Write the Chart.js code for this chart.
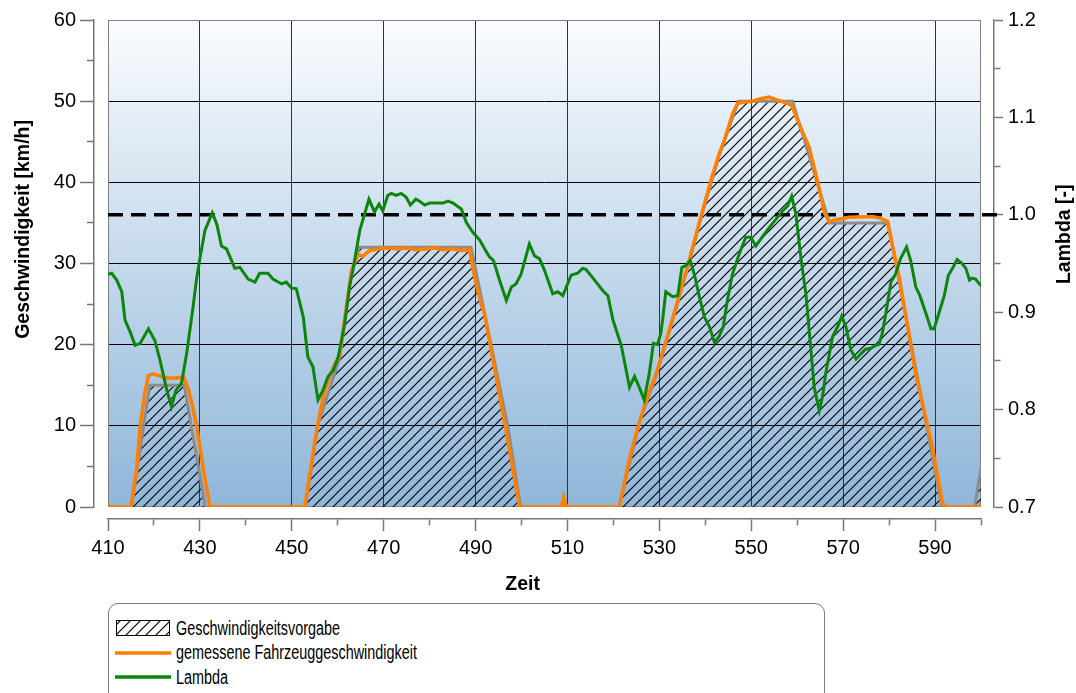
<!DOCTYPE html>
<html>
<head>
<meta charset="utf-8">
<script src="https://cdn.jsdelivr.net/npm/chart.js@4.4.1/dist/chart.umd.min.js"></script>
<style>
  html, body { margin: 0; padding: 0; background: #fff; }
  #wrap { position: relative; width: 1076px; height: 693px; overflow: hidden; }
  #chart { position: absolute; left: 0; top: 0; }
  #legend {
    position: absolute; left: 108px; top: 603px; width: 717px; height: 110px;
    border: 1px solid #7a7a7a; border-radius: 10px; box-sizing: border-box;
    font-family: "Liberation Sans", Arial, sans-serif; color: #000;
  }
  .item { position: absolute; left: 6px; height: 24px; display: flex; align-items: center; }
  .item canvas { display: block; }
  .item span { font-size: 20px; white-space: nowrap; margin-left: 5px; transform: scaleX(0.72); transform-origin: left center; }
</style>
</head>
<body>
<div id="wrap">
  <canvas id="chart" width="1076" height="600"></canvas>
  <div id="legend"></div>
</div>
<script>
// --- data ---
const zeitTicks = [410, 420, 430, 440, 450, 460, 470, 480, 490, 500, 510, 520, 530, 540, 550, 560, 570, 580, 590, 600];
const zeitLabels = [410, 430, 450, 470, 490, 510, 530, 550, 570, 590];
const speedTicks = [0, 5, 10, 15, 20, 25, 30, 35, 40, 45, 50, 55, 60];
const speedLabels = ['0', '10', '20', '30', '40', '50', '60'];
const lambdaTicks = [0.7, 0.75, 0.8, 0.85, 0.9, 0.95, 1.0, 1.05, 1.1, 1.15, 1.2];
const lambdaLabels = ['0.7', '0.8', '0.9', '1.0', '1.1', '1.2'];
const lambdaRef = 1.0;

const titleSpeed = 'Geschwindigkeit [km/h]';
const titleZeit = 'Zeit';
const titleLambda = 'Lambda [-]';

// Geschwindigkeitsvorgabe (target speed)
const vorgabeZeit = [410, 415.1, 419.1, 426.6, 431.2, 453, 455.6, 460.4, 463, 464.6,
                     489, 497, 499.8, 521.2, 525.7, 529.3, 533.6, 536.5, 539, 543,
                     547.2, 559, 567, 579.8, 591.5, 598.6, 600];
const vorgabeWert = [0, 0, 15, 15, 0, 0, 10, 18.3, 29, 32,
                     32, 10, 0, 0, 10.5, 16.2, 24.4, 30.2, 35.5, 43.3,
                     50, 50, 35, 35, 0, 0, 4.8];

// gemessene Fahrzeuggeschwindigkeit
const fahrZeit = [410, 415, 416.2, 417, 418, 418.8, 419.8, 421, 422.7, 424.5,
                  426.5, 427.5, 428.4, 429.3, 430.8, 432.2, 452.8, 454.2, 455.6, 457,
                  458.5, 459.5, 460.4, 461.7, 463, 464.4, 465.5, 466.3, 467, 469,
                  471, 473, 475, 477, 479, 481, 483, 485, 487, 488.7,
                  489.8, 491.2, 491.9, 493.8, 496.3, 499.6, 508.6, 509.2, 509.8, 521.3,
                  523.5, 525.7, 527.5, 529.3, 531.5, 533.6, 536.5, 539, 541.2, 543,
                  544.1, 545.9, 547, 548.5, 550.3, 552, 553.9, 555.4, 557.5, 558.8,
                  560.4, 562.6, 564.4, 565.9, 567, 567.7, 571.3, 576.4, 578, 579.6,
                  582.2, 585.8, 589.4, 591.6, 592.3, 600];
const fahrWert = [0, 0, 4.5, 9.9, 14, 16.2, 16.4, 16.2, 15.9, 15.9,
                  16.0, 14.5, 12.4, 9.9, 4.5, 0, 0, 5, 10, 14,
                  16.5, 17.8, 18.5, 24, 29.1, 31.1, 30.9, 31.3, 31.6, 31.8,
                  31.9, 31.8, 31.9, 31.7, 31.8, 31.9, 31.7, 31.8, 31.6, 31.7,
                  28.3, 25.0, 23.9, 18.1, 10.5, 0, 0, 1.2, 0, 0,
                  6, 10.5, 13.8, 16.4, 20.5, 24.6, 30.4, 35.7, 40.2, 43.5,
                  45.1, 48.4, 49.7, 49.9, 50.0, 50.3, 50.5, 50.2, 49.8, 49.5,
                  47.2, 44.3, 40.2, 36.3, 35.1, 35.3, 35.7, 35.8, 35.6, 35.2,
                  28.3, 16.4, 7.4, 0.5, 0, 0];

// Lambda (right axis)
const lambdaZeit = [410, 410.8, 411.9, 413, 413.7, 414.8, 415.9, 417, 418.8, 420.2,
                    421.3, 422.8, 423.8, 424.8, 426, 427.1, 428.5, 429.3, 430, 431.1,
                    432.7, 433.7, 434.7, 435.8, 437.6, 438.7, 440.5, 442, 443, 444.8,
                    445.9, 447.8, 448.8, 449.9, 451, 452.5, 453.5, 454.6, 455.7, 456.8,
                    457.9, 459, 460.1, 461.5, 462.6, 463.3, 464.8, 466.8, 468, 469,
                    469.8, 470.9, 471.7, 472.7, 473.8, 474.9, 475.8, 477, 477.8, 478.9,
                    480, 482.9, 484, 485.1, 486.9, 488, 489.4, 490.9, 492, 493,
                    493.9, 495.2, 496.7, 497.8, 498.8, 499.9, 501.7, 502.8, 503.9, 505,
                    506.8, 507.9, 509, 510.8, 512.2, 513.3, 514, 515.9, 517.7, 518.8,
                    519.9, 521.7, 523.5, 524.6, 525.7, 526.7, 527.8, 528.7, 529.6, 530.3,
                    530.7, 531.4, 532.9, 534, 534.9, 535.8, 536.7, 537.6, 538.7, 539.8,
                    540.9, 542, 543, 543.9, 544.8, 545.9, 547.4, 548.8, 549.9, 551,
                    552.8, 554.6, 556.8, 557.9, 558.8, 559.7, 560.8, 561.9, 562.9, 563.7,
                    564.8, 565.5, 566.2, 567, 567.7, 568.8, 569.7, 570.6, 571.7, 572.8,
                    573.8, 574.9, 576, 577.1, 577.8, 578.5, 579.3, 580.4, 581.4, 582.5,
                    583.8, 584.7, 585.8, 586.7, 588, 589.1, 589.8, 590.9, 592, 592.9,
                    593.8, 594.8, 595.9, 596.7, 597.5, 598.1, 598.8, 600];
const lambdaWert = [0.939, 0.940, 0.933, 0.921, 0.892, 0.880, 0.866, 0.868, 0.883, 0.871,
                    0.851, 0.820, 0.803, 0.820, 0.827, 0.857, 0.905, 0.935, 0.955, 0.984,
                    1.002, 0.990, 0.968, 0.965, 0.945, 0.946, 0.934, 0.931, 0.940, 0.940,
                    0.934, 0.929, 0.931, 0.925, 0.924, 0.895, 0.854, 0.844, 0.810, 0.820,
                    0.834, 0.840, 0.854, 0.888, 0.927, 0.943, 0.984, 1.016, 1.003, 1.011,
                    1.004, 1.020, 1.022, 1.020, 1.022, 1.018, 1.010, 1.016, 1.014, 1.010,
                    1.012, 1.012, 1.014, 1.012, 1.006, 0.992, 0.982, 0.974, 0.965, 0.957,
                    0.953, 0.933, 0.912, 0.926, 0.929, 0.939, 0.970, 0.958, 0.955, 0.943,
                    0.919, 0.921, 0.917, 0.938, 0.940, 0.945, 0.944, 0.933, 0.922, 0.917,
                    0.892, 0.866, 0.823, 0.834, 0.822, 0.810, 0.837, 0.868, 0.867, 0.878,
                    0.892, 0.921, 0.916, 0.917, 0.946, 0.948, 0.953, 0.939, 0.916, 0.895,
                    0.885, 0.869, 0.875, 0.885, 0.912, 0.939, 0.960, 0.977, 0.977, 0.968,
                    0.980, 0.991, 1.004, 1.009, 1.019, 1.001, 0.956, 0.918, 0.866, 0.823,
                    0.799, 0.813, 0.837, 0.857, 0.875, 0.885, 0.896, 0.885, 0.861, 0.852,
                    0.857, 0.862, 0.863, 0.866, 0.867, 0.878, 0.899, 0.931, 0.939, 0.955,
                    0.967, 0.953, 0.926, 0.917, 0.899, 0.883, 0.883, 0.900, 0.917, 0.938,
                    0.945, 0.954, 0.950, 0.945, 0.933, 0.935, 0.934, 0.927];

const fontFamily = '"Liberation Sans", Arial, sans-serif';
const axisGrey = '#777';

function pts(ts, vs) {
    return ts.map((t, i) => ({ x: t, y: vs[i] }));
}

// diagonal "///" hatch used for the target speed area
function makeHatch(g) {
    const size = 10;
    const tile = document.createElement('canvas');
    tile.width = size;
    tile.height = size;
    const t = tile.getContext('2d');
    t.strokeStyle = '#000';
    t.lineWidth = 1.2;
    t.beginPath();
    t.moveTo(0, size); t.lineTo(size, 0);
    t.moveTo(-1, 1); t.lineTo(1, -1);
    t.moveTo(size - 1, size + 1); t.lineTo(size + 1, size - 1);
    t.stroke();
    return g.createPattern(tile, 'repeat');
}

function setTicks(values) {
    return scale => { scale.ticks = values.map(v => ({ value: v })); };
}

// gradient plot background, frame and the dashed lambda = 1 line
const plotBackground = {
    id: 'plotBackground',
    beforeDraw(chart) {
        const { ctx, chartArea: a } = chart;
        const g = ctx.createLinearGradient(0, a.top, 0, a.bottom);
        g.addColorStop(0, '#fafcfe');
        g.addColorStop(1, '#8fb6d9');
        ctx.save();
        ctx.fillStyle = g;
        ctx.fillRect(a.left, a.top, a.right - a.left, a.bottom - a.top);
        ctx.restore();
    },
    beforeDatasetsDraw(chart) {
        const { ctx, chartArea: a, scales } = chart;
        ctx.save();
        ctx.strokeStyle = '#808080';
        ctx.lineWidth = 1;
        ctx.strokeRect(a.left + 0.5, a.top + 0.5, a.right - a.left - 1, a.bottom - a.top - 1);
        const yRef = scales.lambda.getPixelForValue(lambdaRef);
        ctx.strokeStyle = '#000';
        ctx.lineWidth = 3.5;
        ctx.setLineDash([15, 8]);
        ctx.beginPath();
        ctx.moveTo(a.left, yRef);
        ctx.lineTo(scales.lambda.left + 8, yRef);
        ctx.stroke();
        ctx.restore();
    }
};

// axis titles (both vertical ones read bottom to top)
const axisTitles = {
    id: 'axisTitles',
    afterDraw(chart) {
        const { ctx, chartArea: a, scales } = chart;
        const h = a.bottom - a.top;
        ctx.save();
        ctx.font = 'bold 19.5px ' + fontFamily;
        ctx.fillStyle = '#000';
        ctx.textAlign = 'center';
        ctx.textBaseline = 'middle';
        ctx.fillText(titleZeit, a.left + (a.right - a.left) * 0.475, scales.x.bottom - 15);
        [[titleSpeed, scales.y.left + 23.5, a.top + h * 0.43],
         [titleLambda, scales.lambda.right - 11, a.top + h * 0.44]].forEach(([txt, x, y]) => {
            ctx.save();
            ctx.translate(x, y);
            ctx.rotate(-Math.PI / 2);
            ctx.fillText(txt, 0, 0);
            ctx.restore();
        });
        ctx.restore();
    }
};

function buildLegend(chart) {
    const box = document.getElementById('legend');
    chart.data.datasets.forEach((ds, i) => {
        const row = document.createElement('div');
        row.className = 'item';
        row.style.top = (12 + i * 24.5) + 'px';
        const sw = document.createElement('canvas');
        sw.width = 56;
        sw.height = 24;
        const g = sw.getContext('2d');
        if (ds.fill) {
            g.fillStyle = makeHatch(g);
            g.fillRect(1, 4, 54, 16);
            g.strokeStyle = '#000';
            g.lineWidth = 1;
            g.strokeRect(1.5, 4.5, 53, 15);
        } else {
            g.strokeStyle = ds.borderColor;
            g.lineWidth = 3.5;
            g.beginPath();
            g.moveTo(0, 12);
            g.lineTo(56, 12);
            g.stroke();
        }
        const txt = document.createElement('span');
        txt.textContent = ds.label;
        row.append(sw, txt);
        box.appendChild(row);
    });
}

Chart.defaults.font.family = fontFamily;
Chart.defaults.color = '#000';

const ctx = document.getElementById('chart').getContext('2d');

const chart = new Chart(ctx, {
    type: 'line',
    data: {
        datasets: [
            {
                label: 'Geschwindigkeitsvorgabe',
                data: pts(vorgabeZeit, vorgabeWert),
                yAxisID: 'y',
                borderColor: '#8c8c8c',
                borderWidth: 3,
                backgroundColor: makeHatch(ctx),
                fill: 'origin',
                pointRadius: 0,
                tension: 0,
                order: 2
            },
            {
                label: 'gemessene Fahrzeuggeschwindigkeit',
                data: pts(fahrZeit, fahrWert),
                yAxisID: 'y',
                borderColor: '#ff7f00',
                borderWidth: 3.5,
                fill: false,
                pointRadius: 0,
                tension: 0,
                order: 1
            },
            {
                label: 'Lambda',
                data: pts(lambdaZeit, lambdaWert),
                yAxisID: 'lambda',
                borderColor: '#0b850b',
                borderWidth: 3,
                fill: false,
                pointRadius: 0,
                tension: 0,
                order: 0
            }
        ]
    },
    options: {
        responsive: false,
        animation: false,
        layout: { padding: { top: 20, left: 0, right: 0, bottom: 0 } },
        plugins: { legend: { display: false }, tooltip: { enabled: false } },
        scales: {
            x: {
                type: 'linear', position: 'bottom', weight: 1, min: 410, max: 600,
                afterBuildTicks: setTicks(zeitTicks),
                afterFit: s => { s.height = 81; },
                ticks: {
                    font: { size: 20 }, padding: 5, maxRotation: 0, autoSkip: false,
                    callback: v => zeitLabels.includes(v) ? String(v) : ''
                },
                grid: {
                    drawOnChartArea: false, tickLength: 12, tickColor: axisGrey, tickWidth: 1.5,
                    tickBorderDash: c => zeitLabels.includes(c.tick.value) ? [] : [6, 100]
                },
                border: { color: axisGrey, width: 1.5 }
            },
            xGrid: {
                type: 'linear', axis: 'x', position: 'bottom', weight: 0, min: 410, max: 600,
                afterBuildTicks: setTicks(zeitLabels.slice(1)),
                afterFit: s => { s.height = 12; },
                ticks: { display: false },
                grid: { color: '#333', lineWidth: 1, drawTicks: false },
                border: { display: false }
            },
            y: {
                type: 'linear', position: 'left', weight: 1, min: 0, max: 60,
                afterBuildTicks: setTicks(speedTicks),
                afterFit: s => { s.width = 94; },
                ticks: {
                    font: { size: 20 }, padding: 4, autoSkip: false,
                    callback: (v, i) => i % 2 === 0 ? speedLabels[i / 2] : ''
                },
                grid: {
                    drawOnChartArea: false, tickLength: 14, tickColor: axisGrey, tickWidth: 1.5,
                    tickBorderDash: c => c.index % 2 === 0 ? [] : [0, 7, 20, 0]
                },
                border: { color: axisGrey, width: 1.5 }
            },
            yGap: {
                type: 'linear', axis: 'y', position: 'left', weight: 0, min: 0, max: 60,
                afterBuildTicks: setTicks(speedTicks.filter(v => v % 10 === 0 && v > 0 && v < 60)),
                afterFit: s => { s.width = 14; },
                ticks: { display: false },
                grid: { color: '#000', lineWidth: 1, drawTicks: false },
                border: { display: false }
            },
            lambda: {
                type: 'linear', axis: 'y', position: 'right', weight: 1, min: 0.7, max: 1.2,
                afterBuildTicks: setTicks(lambdaTicks),
                afterFit: s => { s.width = 82; },
                ticks: {
                    font: { size: 20 }, padding: 5, autoSkip: false,
                    callback: (v, i) => i % 2 === 0 ? lambdaLabels[i / 2] : ''
                },
                grid: {
                    drawOnChartArea: false, tickLength: 9, tickColor: axisGrey, tickWidth: 1.5,
                    tickBorderDash: c => c.index % 2 === 0 ? [] : [6, 100]
                },
                border: { color: axisGrey, width: 1.5 }
            },
            lGap: {
                type: 'linear', axis: 'y', position: 'right', weight: 0, min: 0.7, max: 1.2,
                afterFit: s => { s.width = 13; },
                ticks: { display: false },
                grid: { display: false },
                border: { display: false }
            }
        }
    },
    plugins: [plotBackground, axisTitles]
});

buildLegend(chart);
</script>
</body>
</html>
